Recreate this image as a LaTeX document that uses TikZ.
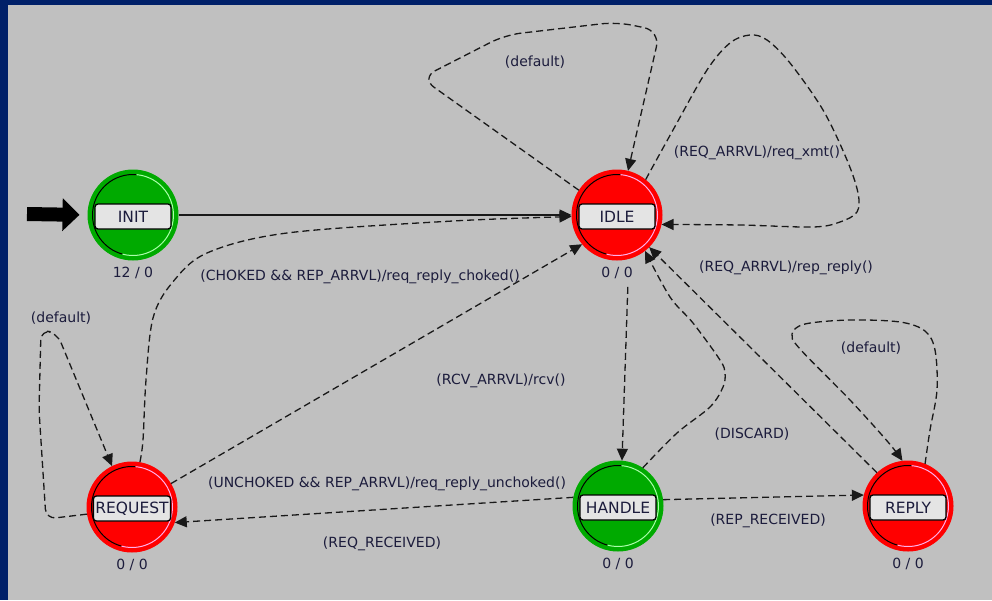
\documentclass[tikz,border=0pt]{standalone}
\usepackage{fontspec}
\setmainfont{DejaVu Sans}
\usetikzlibrary{arrows.meta}

\definecolor{frame}{RGB}{0,32,105}
\definecolor{panel}{RGB}{192,192,192}
\definecolor{stgreen}{RGB}{0,170,0}
\definecolor{stred}{RGB}{255,0,0}
\definecolor{glgreen}{RGB}{170,255,170}
\definecolor{glred}{RGB}{255,175,235}
\definecolor{tagfill}{RGB}{228,228,228}
\definecolor{ink}{RGB}{28,28,60}
\definecolor{wire}{RGB}{25,25,25}

\tikzset{
  state/.style={circle, minimum size=90pt, inner sep=0pt, fill=#1, draw=#1, line width=1pt},
  tag/.style={draw=black, line width=1.3pt, rounded corners=3pt, fill=tagfill,
    minimum width=76pt, minimum height=25pt, inner sep=2pt,
    font=\fontsize{15.5}{17}\selectfont, text=ink},
  count/.style={font=\fontsize{14}{16}\selectfont, text=ink, inner sep=1pt},
  trlabel/.style={font=\fontsize{14}{16}\selectfont, text=ink, inner sep=0pt},
  tip/.style={-{Triangle[length=12pt,width=11pt]}},
  trans/.style={draw=wire, line width=1.3pt, dash pattern=on 7pt off 4pt, tip},
  direct/.style={draw=wire, line width=1.3pt, tip},
}

% state: name, x, y, fill, glint, tag text, counter text
\newcommand{\fsmstate}[7]{%
  \node[state=#4] (#1) at (#2,#3) {};
  \draw[black, line width=1pt] (#1.center) ++(85:40.5pt)
    arc[start angle=85, end angle=255, radius=40.5pt];
  \draw[#5, line width=1pt] (#1.center) ++(255:40.5pt)
    arc[start angle=255, end angle=445, radius=40.5pt];
  \node[tag] (#1-tag) at (#2,#3-1.5) {#6};
  \node[count, fill=panel] (#1-count) at (#2,#3-58) {#7};
}

\begin{document}
\begin{tikzpicture}[x=1pt,y=1pt]
  \useasboundingbox (0,0) rectangle (992,-600);
  \fill[frame] (0,0) rectangle (992,-600);
  \fill[panel] (8,-5) rectangle (992,-600);

  % states
  \fsmstate{init}{133}{-215}{stgreen}{glgreen}{INIT}{12 / 0}
  \fsmstate{idle}{617}{-215}{stred}{glred}{IDLE}{0 / 0}
  \fsmstate{request}{132}{-507}{stred}{glred}{REQUEST}{0 / 0}
  \fsmstate{handle}{618}{-506}{stgreen}{glgreen}{HANDLE}{0 / 0}
  \fsmstate{reply}{908}{-506}{stred}{glred}{REPLY}{0 / 0}

  % entry arrow
  \coordinate (entry) at (27,-214);
  \draw[line width=14pt, -{Triangle[length=17pt,width=32pt]}, shorten >=8pt]
    (entry) -- (init.west);

  % INIT -> IDLE
  \draw[direct] (init.east) -- (idle.west);

  % IDLE self loop (default)
  \draw[trans, rounded corners=16pt] (idle.147) -- (421,-78) -- (505,-35)
    -- (617,-22) -- (660,-31) -- (idle.76);
  \node[trlabel] (lbl-idle-default) at (535,-62) {(default)};

  % IDLE self loop (REQ_ARRVL)/req_xmt()
  \draw[trans] plot[smooth, tension=0.55] coordinates {(idle.51) (673,-130) (707,-70)
    (730,-43) (750,-35) (767,-40) (790,-63) (823,-110) (847,-160) (858,-193)
    (857,-212) (840,-222) (813,-227) (740,-225) (idle.348)};
  \node[trlabel] (lbl-xmt) at (757,-153) {(REQ\_ARRVL)/req\_xmt()};

  % REQUEST -> IDLE (curved)
  \draw[trans] plot[smooth, tension=0.55] coordinates {(request.80) (143,-440)
    (146,-380) (153,-318) (172,-283) (207,-253) (287,-233) (453,-221) (idle.182)};
  \node[trlabel] (lbl-choked) at (360,-277) {(CHOKED \&\& REP\_ARRVL)/req\_reply\_choked()};

  % REQUEST -> IDLE (straight)
  \draw[trans] (request.31) -- (idle.220);
  \node[trlabel] (lbl-rcv) at (501,-381) {(RCV\_ARRVL)/rcv()};
  \node[trlabel] (lbl-unchoked) at (387,-484) {(UNCHOKED \&\& REP\_ARRVL)/req\_reply\_unchoked()};

  % IDLE -> HANDLE
  \draw[trans, shorten <=28pt] (idle.-75) -- (handle.85);

  % HANDLE -> IDLE (DISCARD)
  \draw[trans] plot[smooth, tension=0.55] coordinates {(handle.57) (677,-433)
    (710,-407) (723,-387) (725,-373) (720,-360) (693,-323) (670,-297) (idle.-52)};
  \node[trlabel] (lbl-discard) at (752,-434) {(DISCARD)};

  % REPLY -> IDLE
  \draw[trans] (reply.133) -- (idle.-45);
  \node[trlabel] (lbl-rep-reply) at (786,-268) {(REQ\_ARRVL)/rep\_reply()};

  % HANDLE -> REPLY
  \draw[trans] (handle.8) -- (reply.166);
  \node[trlabel] (lbl-rep-rcvd) at (768,-521) {(REP\_RECEIVED)};

  % HANDLE -> REQUEST
  \draw[trans] (handle.169) -- (request.-20);
  \node[trlabel] (lbl-req-rcvd) at (382,-544) {(REQ\_RECEIVED)};

  % REQUEST self loop (default)
  \draw[trans, rounded corners=10pt] (request.189) -- (46,-519) -- (39,-410)
    -- (41,-330) -- (57,-333) -- (request.116);
  \node[trlabel] (lbl-req-default) at (61,-318) {(default)};

  % REPLY self loop (default)
  \draw[trans] plot[smooth, tension=0.55] coordinates {(reply.68) (930,-430)
    (937,-390) (935,-350) (925,-331) (900,-322) (850,-320) (805,-324) (792,-334)
    (800,-349) (850,-400) (888,-442) (reply.97)};
  \node[trlabel] (lbl-reply-default) at (871,-348) {(default)};
\end{tikzpicture}
\end{document}
